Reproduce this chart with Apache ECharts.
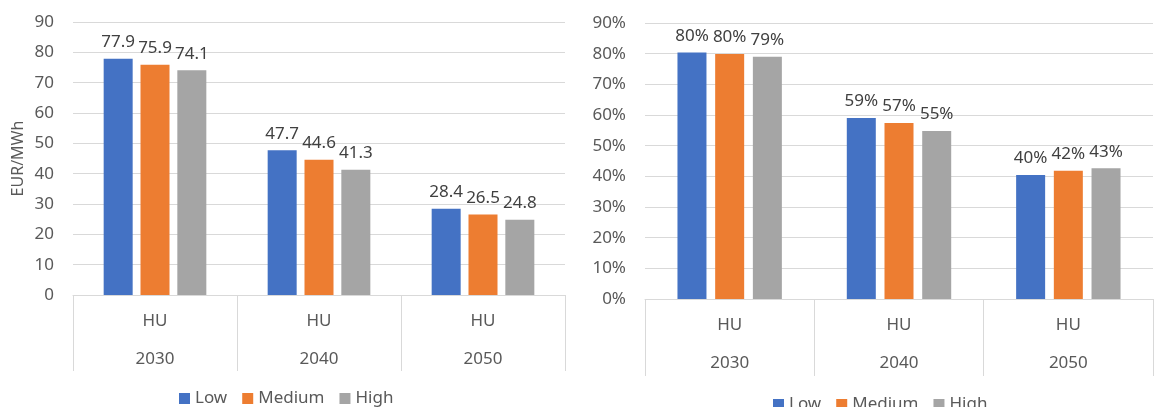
<!DOCTYPE html>
<html>
<head>
<meta charset="utf-8">
<script src="https://cdn.jsdelivr.net/npm/echarts@6/dist/echarts.min.js"></script>
<style>
  html, body { margin: 0; padding: 0; background: #fff; }
  #main { width: 1154px; height: 407px; }
</style>
</head>
<body>
<div id="main"></div>
<script>
// data
var years = ["2030", "2040", "2050"];
var region = ["HU", "HU", "HU"];
var scenarios = ["Low", "Medium", "High"];
var costLow = [77.9, 47.7, 28.4];
var costMedium = [75.9, 44.6, 26.5];
var costHigh = [74.1, 41.3, 24.8];
var shareLow = [80.4, 59.0, 40.4];
var shareMedium = [79.9, 57.4, 41.8];
var shareHigh = [79.0, 54.8, 42.6];

var colors = ["#4472c4", "#ed7d31", "#a5a5a5"];
var textColor = "#595959";
var lineColor = "#d9d9d9";
var font = "Noto Sans";

var myChart = echarts.init(document.getElementById("main"));

function xAxisFor(gridIndex, tickLen) {
  return {
    type: "category",
    gridIndex: gridIndex,
    data: years,
    axisLine: { show: true, lineStyle: { color: lineColor, width: 1 } },
    axisTick: { show: true, interval: 0, length: tickLen, lineStyle: { color: lineColor } },
    axisLabel: {
      interval: 0,
      margin: 7,
      formatter: function (value, index) {
        return "{r|" + region[index] + "}\n{y|" + value + "}";
      },
      rich: {
        r: { fontSize: 17, fontFamily: font, color: textColor, lineHeight: 38 },
        y: { fontSize: 17, fontFamily: font, color: textColor, lineHeight: 38 },
      },
    },
  };
}

function yAxisFor(gridIndex, suffix, name) {
  return {
    type: "value",
    gridIndex: gridIndex,
    min: 0,
    max: 90,
    interval: 10,
    name: name,
    nameLocation: "middle",
    nameGap: 47,
    nameTextStyle: { fontSize: 16, fontFamily: font, color: textColor },
    axisLine: { show: false },
    axisTick: { show: false },
    splitLine: { lineStyle: { color: lineColor, width: 1 } },
    axisLabel: {
      margin: 19,
      fontSize: 17,
      fontFamily: font,
      color: textColor,
      formatter: "{value}" + suffix,
    },
  };
}

function barSeries(name, data, color, idx, gap, fmt) {
  return {
    name: name,
    type: "bar",
    xAxisIndex: idx,
    yAxisIndex: idx,
    data: data,
    barWidth: 29,
    barGap: gap,
    itemStyle: { color: color },
    label: {
      show: true,
      position: "top",
      distance: 8,
      fontSize: 17,
      fontFamily: font,
      color: "#404040",
      formatter: fmt,
    },
  };
}

var fmtCost = function (p) { return p.value.toFixed(1); };
var fmtShare = function (p) { return Math.round(p.value) + "%"; };

var legendBase = {
  data: scenarios,
  itemWidth: 11,
  itemHeight: 11,
  itemGap: 15,
  icon: "rect",
  textStyle: { fontSize: 17, fontFamily: font, color: textColor },
};

var option = {
  backgroundColor: "#fff",
  animation: false,
  color: colors,
  grid: [
    { left: 73, right: 589, top: 22, bottom: 112 },
    { left: 645, right: 1, top: 23, bottom: 108 },
  ],
  legend: [
    Object.assign({ left: 174, top: 385 }, legendBase),
    Object.assign({ left: 768, top: 391 }, legendBase),
  ],
  xAxis: [xAxisFor(0, 76), xAxisFor(1, 77)],
  yAxis: [yAxisFor(0, "", "EUR/MWh"), yAxisFor(1, "%", "")],
  series: [
    barSeries("Low", costLow, colors[0], 0, "27%", fmtCost),
    barSeries("Medium", costMedium, colors[1], 0, "27%", fmtCost),
    barSeries("High", costHigh, colors[2], 0, "27%", fmtCost),
    barSeries("Low", shareLow, colors[0], 1, "30%", fmtShare),
    barSeries("Medium", shareMedium, colors[1], 1, "30%", fmtShare),
    barSeries("High", shareHigh, colors[2], 1, "30%", fmtShare),
  ],
};

myChart.setOption(option);
</script>
</body>
</html>
